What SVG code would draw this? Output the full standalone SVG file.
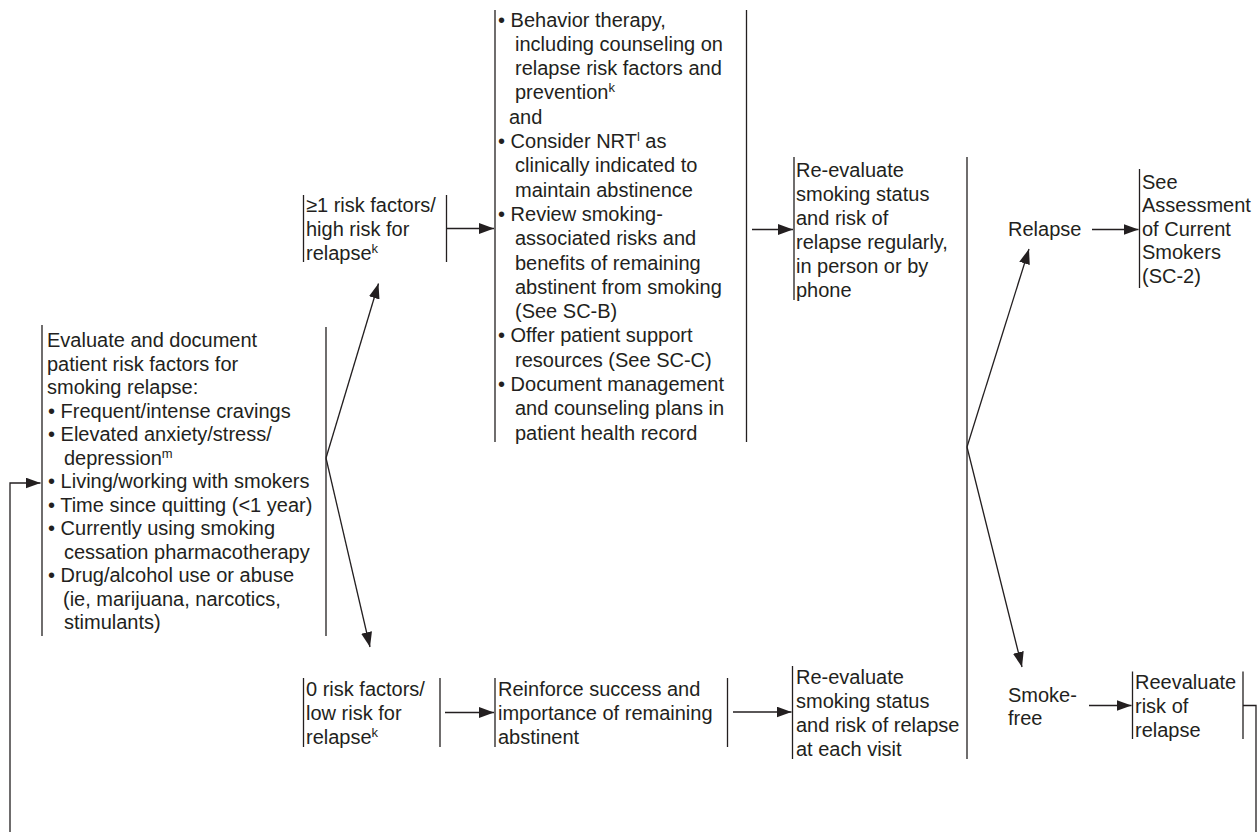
<svg xmlns="http://www.w3.org/2000/svg" width="1259" height="832" viewBox="0 0 1259 832">
<defs>
<style>
.t{font-family:"Liberation Sans",Arial,Helvetica,sans-serif;font-size:20px;fill:#231f20}
.sup{font-size:13px}
.bar{stroke:#231f20;stroke-width:1.3;fill:none}
.c{stroke:#231f20;stroke-width:1.3;fill:none}
.a{marker-end:url(#ah)}
</style>
<marker id="ah" markerUnits="userSpaceOnUse" markerWidth="16" markerHeight="12" refX="15" refY="5.5" orient="auto">
<path d="M0,0 L15,5.5 L0,11 z" fill="#231f20"/>
</marker>
</defs>
<rect width="1259" height="832" fill="#ffffff"/>

<g id="n-evaluate">
<line class="bar" x1="42" y1="325" x2="42" y2="636"/>
<line class="bar" x1="326" y1="327" x2="326" y2="636"/>
<text class="t">
<tspan x="47" y="347">Evaluate and document</tspan>
<tspan x="47" y="370.5">patient risk factors for</tspan>
<tspan x="47" y="394">smoking relapse:</tspan>
<tspan x="48" y="417.5">• Frequent/intense cravings</tspan>
<tspan x="48" y="441">• Elevated anxiety/stress/</tspan>
<tspan x="64" y="464.5">depression<tspan class="sup" dy="-7">m</tspan></tspan>
<tspan x="48" y="488">• Living/working with smokers</tspan>
<tspan x="48" y="511.5">• Time since quitting (&lt;1 year)</tspan>
<tspan x="48" y="535">• Currently using smoking</tspan>
<tspan x="64" y="558.5">cessation pharmacotherapy</tspan>
<tspan x="48" y="582">• Drug/alcohol use or abuse</tspan>
<tspan x="63" y="605.5">(ie, marijuana, narcotics,</tspan>
<tspan x="64" y="629">stimulants)</tspan>
</text>
</g>

<g id="n-high">
<line class="bar" x1="303.5" y1="195" x2="303.5" y2="262"/>
<line class="bar" x1="446.5" y1="195" x2="446.5" y2="262"/>
<text class="t">
<tspan x="306" y="212">≥1 risk factors/</tspan>
<tspan x="306" y="236">high risk for</tspan>
<tspan x="306" y="260">relapse<tspan class="sup" dy="-7">k</tspan></tspan>
</text>
</g>

<g id="n-low">
<line class="bar" x1="303.5" y1="678" x2="303.5" y2="747"/>
<line class="bar" x1="440" y1="678" x2="440" y2="747"/>
<text class="t">
<tspan x="306" y="696">0 risk factors/</tspan>
<tspan x="306" y="720">low risk for</tspan>
<tspan x="306" y="744">relapse<tspan class="sup" dy="-7">k</tspan></tspan>
</text>
</g>

<g id="n-behavior">
<line class="bar" x1="495" y1="10" x2="495" y2="442"/>
<line class="bar" x1="746.5" y1="10" x2="746.5" y2="442"/>
<text class="t">
<tspan x="498" y="26.5">• Behavior therapy,</tspan>
<tspan x="515" y="50.8">including counseling on</tspan>
<tspan x="515" y="75.1">relapse risk factors and</tspan>
<tspan x="515" y="99.4">prevention<tspan class="sup" dy="-7">k</tspan></tspan>
<tspan x="509" y="123.7">and</tspan>
<tspan x="498" y="148">• Consider NRT<tspan class="sup" dy="-7">l</tspan><tspan dy="7"> as</tspan></tspan>
<tspan x="515" y="172.3">clinically indicated to</tspan>
<tspan x="515" y="196.6">maintain abstinence</tspan>
<tspan x="498" y="220.9">• Review smoking-</tspan>
<tspan x="515" y="245.2">associated risks and</tspan>
<tspan x="515" y="269.5">benefits of remaining</tspan>
<tspan x="515" y="293.8">abstinent from smoking</tspan>
<tspan x="515" y="318.1">(See SC-B)</tspan>
<tspan x="498" y="342.4">• Offer patient support</tspan>
<tspan x="515" y="366.7">resources (See SC-C)</tspan>
<tspan x="498" y="391">• Document management</tspan>
<tspan x="515" y="415.3">and counseling plans in</tspan>
<tspan x="515" y="439.6">patient health record</tspan>
</text>
</g>

<g id="n-reinforce">
<line class="bar" x1="495" y1="678" x2="495" y2="747"/>
<line class="bar" x1="727.5" y1="678" x2="727.5" y2="747"/>
<text class="t">
<tspan x="498" y="696">Reinforce success and</tspan>
<tspan x="498" y="720">importance of remaining</tspan>
<tspan x="498" y="744">abstinent</tspan>
</text>
</g>

<g id="n-reeval-top">
<line class="bar" x1="794" y1="157" x2="794" y2="300"/>
<text class="t">
<tspan x="796" y="177">Re-evaluate</tspan>
<tspan x="796" y="201">smoking status</tspan>
<tspan x="796" y="225">and risk of</tspan>
<tspan x="796" y="249">relapse regularly,</tspan>
<tspan x="796" y="273">in person or by</tspan>
<tspan x="796" y="297">phone</tspan>
</text>
</g>

<g id="n-reeval-bottom">
<line class="bar" x1="792.5" y1="666" x2="792.5" y2="759"/>
<text class="t">
<tspan x="796" y="683.5">Re-evaluate</tspan>
<tspan x="796" y="707.5">smoking status</tspan>
<tspan x="796" y="731.5">and risk of relapse</tspan>
<tspan x="796" y="755.5">at each visit</tspan>
</text>
</g>

<g id="n-relapse">
<text class="t" x="1008" y="236">Relapse</text>
</g>

<g id="n-see">
<line class="bar" x1="1139.5" y1="169" x2="1139.5" y2="288"/>
<text class="t">
<tspan x="1142" y="188.5">See</tspan>
<tspan x="1142" y="212">Assessment</tspan>
<tspan x="1142" y="235.5">of Current</tspan>
<tspan x="1142" y="259">Smokers</tspan>
<tspan x="1142" y="282.5">(SC-2)</tspan>
</text>
</g>

<g id="n-smokefree">
<text class="t">
<tspan x="1008" y="702">Smoke-</tspan>
<tspan x="1008" y="725">free</tspan>
</text>
</g>

<g id="n-reevaluate-risk">
<line class="bar" x1="1132.5" y1="671.5" x2="1132.5" y2="739"/>
<line class="bar" x1="1243" y1="671.5" x2="1243" y2="739"/>
<text class="t">
<tspan x="1135" y="688.5">Reevaluate</tspan>
<tspan x="1135" y="713">risk of</tspan>
<tspan x="1135" y="737">relapse</tspan>
</text>
</g>

<g id="connectors">
<line class="c" x1="967" y1="157" x2="967" y2="759"/>
<polyline class="c a" points="10,832 10,483 40.5,483"/>
<line class="c a" x1="326" y1="458" x2="378.5" y2="283.5"/>
<line class="c a" x1="326" y1="458" x2="370" y2="647"/>
<line class="c a" x1="447" y1="228.5" x2="494" y2="228.5"/>
<line class="c a" x1="752" y1="229.5" x2="793" y2="229.5"/>
<line class="c a" x1="445" y1="712.5" x2="494" y2="712.5"/>
<line class="c a" x1="733" y1="712" x2="791.5" y2="712"/>
<line class="c a" x1="967" y1="447" x2="1029" y2="249"/>
<line class="c a" x1="967" y1="447" x2="1022" y2="667"/>
<line class="c a" x1="1092" y1="229.5" x2="1138.5" y2="229.5"/>
<line class="c a" x1="1089" y1="705.5" x2="1131.5" y2="705.5"/>
<polyline class="c" points="1243,705.5 1256,705.5 1256,832"/>
</g>
</svg>
